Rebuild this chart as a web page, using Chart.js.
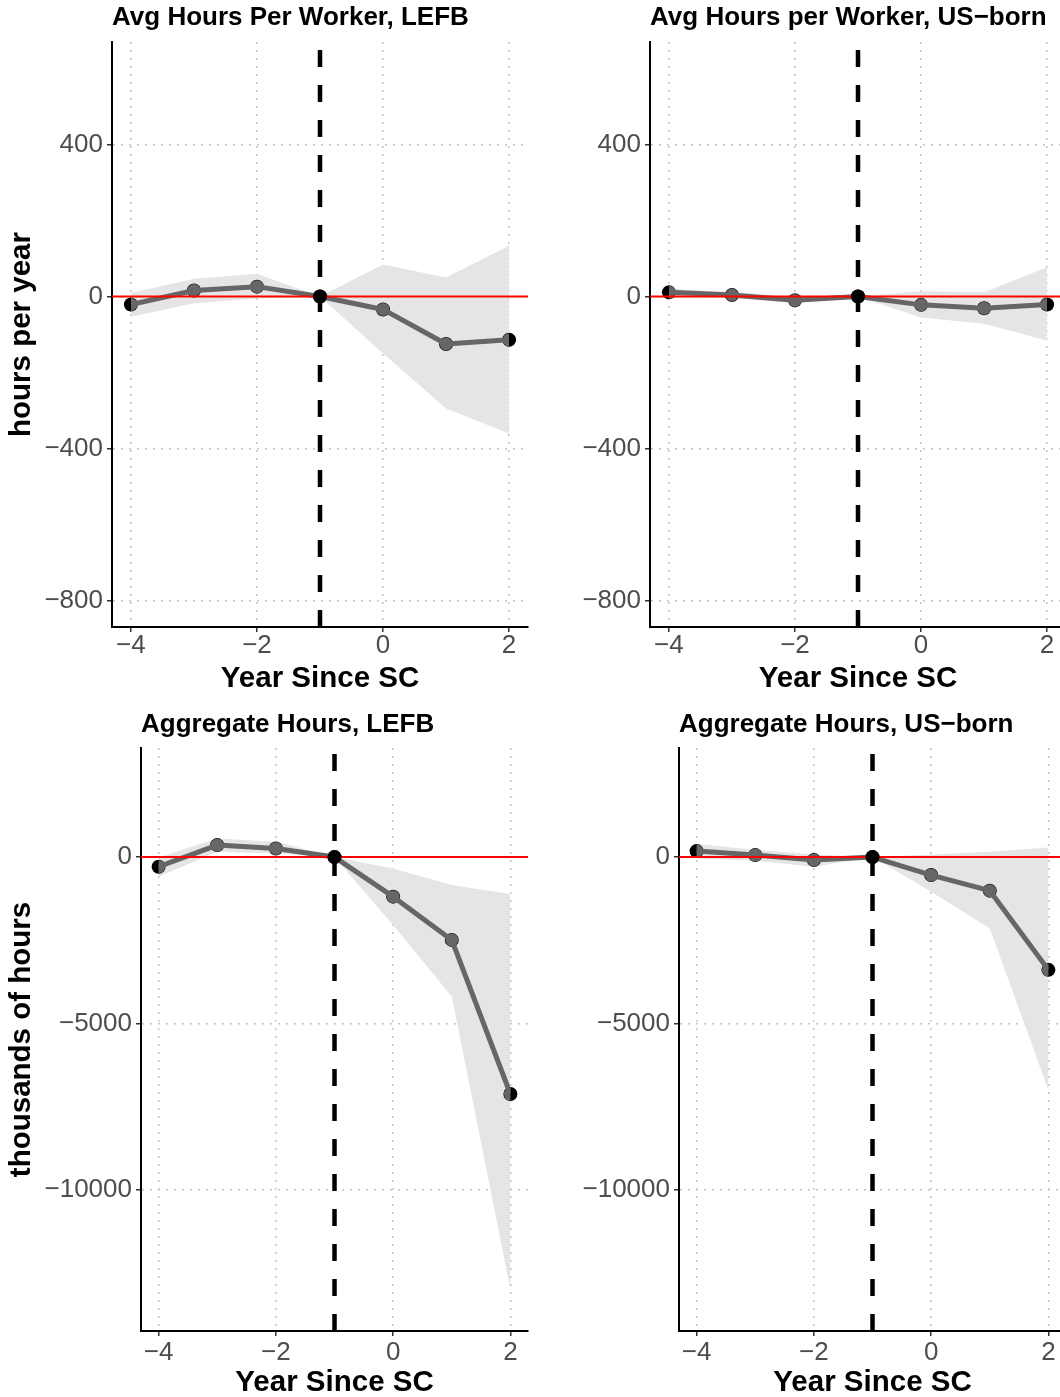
<!DOCTYPE html>
<html>
<head>
<meta charset="utf-8">
<script src="https://cdn.jsdelivr.net/npm/chart.js@4/dist/chart.umd.min.js"></script>
<style>
  html, body { margin: 0; padding: 0; background: #fff; overflow: hidden; }
  body { width: 1060px; height: 1397px; position: relative; }
  canvas { position: absolute; }
</style>
</head>
<body>
<canvas id="avg-lefb" width="540" height="700" style="left:0;top:0"></canvas>
<canvas id="avg-us" width="540" height="700" style="left:540px;top:0"></canvas>
<canvas id="agg-lefb" width="540" height="697" style="left:0;top:700px"></canvas>
<canvas id="agg-us" width="540" height="697" style="left:540px;top:700px"></canvas>
<script>
// event-study estimates by year relative to the shock
const years = [-4, -3, -2, -1, 0, 1, 2];
const eventYear = -1;

// average hours per worker (hours per year)
const avgLefb   = [-21, 16, 26, 0, -34, -125, -114];
const avgLefbLo = [-53, -18, -5, 0, -150, -295, -361];
const avgLefbHi = [9, 47, 60, 0, 84, 50, 134];

const avgUs   = [11, 4, -10, 0, -22, -31, -21];
const avgUsLo = [2, -4, -18, 0, -55, -72, -116];
const avgUsHi = [20, 12, -2, 0, 14, 11, 77];

// aggregate hours (thousands)
const aggLefb   = [-290, 360, 260, 0, -1190, -2490, -7125];
const aggLefbLo = [-590, 160, 110, 0, -2050, -4190, -13000];
const aggLefbHi = [-10, 560, 460, 0, -340, -840, -1110];

const aggUs   = [180, 60, -90, 0, -540, -1010, -3390];
const aggUsLo = [-40, -110, -290, 0, -1040, -2140, -7000];
const aggUsHi = [390, 220, 80, 0, 80, 160, 290];

// axes
const xTicks = [-4, -2, 0, 2];
const xMin = -4.3, xMax = 2.3;
const avgTicks = [-800, -400, 0, 400];
const avgMin = -870, avgMax = 670;
const aggTicks = [-10000, -5000, 0];
const aggMin = -14250, aggMax = 3280;

Chart.defaults.font.family = "'Liberation Sans', Arial, sans-serif";

const minus = (v) => (v < 0 ? "\u2212" + Math.abs(v) : String(v));
const pts = (ys) => years.map((x, i) => ({ x: x, y: ys[i] }));

// keeps the estimate line inside the observed year range
const clipXPlugin = {
  id: "clipX",
  beforeDatasetDraw(chart, args) {
    const ds = chart.data.datasets[args.index];
    if (!ds.clipX) return;
    const xs = chart.scales.x;
    const a = chart.chartArea;
    const x0 = xs.getPixelForValue(ds.clipX[0]);
    const x1 = xs.getPixelForValue(ds.clipX[1]);
    chart.ctx.save();
    chart.ctx.beginPath();
    chart.ctx.rect(x0, a.top - 20, x1 - x0, a.bottom - a.top + 40);
    chart.ctx.clip();
  },
  afterDatasetDraw(chart, args) {
    if (chart.data.datasets[args.index].clipX) chart.ctx.restore();
  },
};

const panels = [
  {
    id: "avg-lefb", title: "Avg Hours Per Worker, LEFB", yTitle: "hours per year",
    mid: avgLefb, lo: avgLefbLo, hi: avgLefbHi,
    yMin: avgMin, yMax: avgMax, yTicks: avgTicks,
    yAxisW: 112, xAxisH: 73, padRight: 12,
    titlePad: { top: 4.5, bottom: 11.5 }, xTitlePad: 6, xTickPad: 1,
  },
  {
    id: "avg-us", title: "Avg Hours per Worker, US\u2212born", yTitle: "",
    mid: avgUs, lo: avgUsLo, hi: avgUsHi,
    yMin: avgMin, yMax: avgMax, yTicks: avgTicks,
    yAxisW: 110, xAxisH: 73, padRight: 14,
    titlePad: { top: 4.5, bottom: 11.5 }, xTitlePad: 6, xTickPad: 1,
  },
  {
    id: "agg-lefb", title: "Aggregate Hours, LEFB", yTitle: "thousands of hours",
    mid: aggLefb, lo: aggLefbLo, hi: aggLefbHi,
    yMin: aggMin, yMax: aggMax, yTicks: aggTicks,
    yAxisW: 141, xAxisH: 66, padRight: 12,
    titlePad: { top: 12, bottom: 10 }, xTitlePad: -1, xTickPad: 4,
  },
  {
    id: "agg-us", title: "Aggregate Hours, US\u2212born", yTitle: "",
    mid: aggUs, lo: aggUsLo, hi: aggUsHi,
    yMin: aggMin, yMax: aggMax, yTicks: aggTicks,
    yAxisW: 139, xAxisH: 66, padRight: 14,
    titlePad: { top: 12, bottom: 10 }, xTitlePad: -1, xTickPad: 4,
  },
];

const gridOpts = {
  color: "#c4c4c4",
  lineWidth: 1.5,
  tickColor: "#333333",
  tickLength: 5,
  tickWidth: 1.5,
};
const borderOpts = { color: "#000000", width: 2, dash: [2, 6] };

panels.forEach((p) => {
  const ref = p.mid[years.indexOf(eventYear)];
  new Chart(document.getElementById(p.id), {
    type: "line",
    data: {
      datasets: [
        {
          // confidence band, lower edge
          data: pts(p.lo),
          borderWidth: 0,
          pointRadius: 0,
          fill: false,
          order: 7,
        },
        {
          // confidence band, upper edge filled down to the lower one
          data: pts(p.hi),
          borderWidth: 0,
          pointRadius: 0,
          backgroundColor: "#e5e5e5",
          fill: "-1",
          order: 6,
        },
        {
          data: pts(p.mid),
          showLine: false,
          pointRadius: 7,
          pointBackgroundColor: "#000000",
          pointBorderWidth: 0,
          order: 5,
        },
        {
          data: pts(p.mid),
          borderColor: "#666666",
          borderWidth: 5,
          borderJoinStyle: "round",
          pointRadius: 6.5,
          pointBackgroundColor: "#666666",
          pointBorderWidth: 0,
          clipX: [years[0], years[years.length - 1]],
          order: 4,
        },
        {
          // zero line
          data: [{ x: xMin, y: 0 }, { x: xMax, y: 0 }],
          borderColor: "#ff0000",
          borderWidth: 2,
          pointRadius: 0,
          order: 3,
        },
        {
          // year before treatment
          data: [{ x: eventYear, y: p.yMin }, { x: eventYear, y: p.yMax }],
          borderColor: "#000000",
          borderWidth: 4.5,
          borderDash: [17, 18],
          pointRadius: 0,
          order: 2,
        },
        {
          data: [{ x: eventYear, y: ref }],
          showLine: false,
          pointRadius: 7,
          pointBackgroundColor: "#000000",
          pointBorderWidth: 0,
          order: 1,
        },
      ],
    },
    options: {
      responsive: false,
      animation: false,
      events: [],
      layout: { padding: { left: 0, right: p.padRight, top: 0, bottom: 0 } },
      scales: {
        x: {
          type: "linear",
          min: xMin,
          max: xMax,
          afterBuildTicks: (s) => { s.ticks = xTicks.map((v) => ({ value: v })); },
          afterFit: (s) => { s.height = p.xAxisH; },
          grid: gridOpts,
          border: borderOpts,
          ticks: {
            color: "#4d4d4d",
            font: { size: 26, lineHeight: 1 },
            padding: p.xTickPad,
            maxRotation: 0,
            callback: (v) => minus(v),
          },
          title: {
            display: true,
            text: "Year Since SC",
            color: "#000000",
            font: { size: 29.5, weight: "bold", lineHeight: 1 },
            padding: { top: 0, bottom: p.xTitlePad },
          },
        },
        y: {
          type: "linear",
          min: p.yMin,
          max: p.yMax,
          afterBuildTicks: (s) => { s.ticks = p.yTicks.map((v) => ({ value: v })); },
          afterFit: (s) => { s.width = p.yAxisW; },
          grid: gridOpts,
          border: borderOpts,
          ticks: {
            color: "#4d4d4d",
            font: { size: 26, lineHeight: 1 },
            padding: 4,
            callback: (v) => minus(v),
          },
          title: {
            display: p.yTitle !== "",
            text: p.yTitle,
            color: "#000000",
            font: { size: 29.5, weight: "bold", lineHeight: 1 },
            padding: { top: 7, bottom: 0 },
          },
        },
      },
      plugins: {
        legend: { display: false },
        tooltip: { enabled: false },
        title: {
          display: true,
          text: p.title,
          align: "start",
          fullSize: false,
          color: "#000000",
          font: { size: 26, weight: "bold", lineHeight: 1 },
          padding: p.titlePad,
        },
      },
    },
    plugins: [clipXPlugin],
  });
});
</script>
</body>
</html>
